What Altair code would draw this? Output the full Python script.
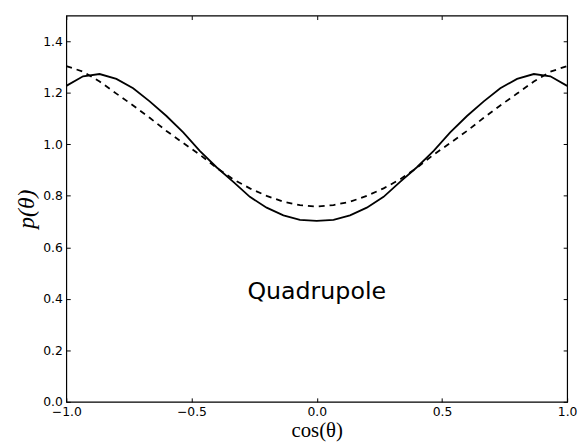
import altair as alt
import pandas as pd

# x grid (cos theta), left half incl. 0; right half mirrors it
x_half = [-1.0, -0.933, -0.867, -0.8, -0.733, -0.667, -0.6, -0.533, -0.467,
          -0.4, -0.333, -0.267, -0.2, -0.133, -0.067, 0.0]
solid_half = [1.227, 1.264, 1.273, 1.254, 1.218, 1.167, 1.110, 1.046, 0.975,
              0.911, 0.854, 0.796, 0.754, 0.724, 0.707, 0.703]
dashed_half = [1.304, 1.282, 1.244, 1.197, 1.151, 1.103, 1.052, 1.005, 0.960,
               0.909, 0.864, 0.829, 0.800, 0.777, 0.764, 0.758]

x_vals = x_half + [-v for v in reversed(x_half[:-1])]
solid_vals = solid_half + list(reversed(solid_half[:-1]))
dashed_vals = dashed_half + list(reversed(dashed_half[:-1]))

x_ticks = [-1.0, -0.5, 0.0, 0.5, 1.0]
y_ticks = [0.0, 0.2, 0.4, 0.6, 0.8, 1.0, 1.2, 1.4]

label_text = ["Quadrupole"]
label_x = [0.0]
label_y = [0.4]

df = pd.DataFrame({"x": x_vals, "solid": solid_vals, "dashed": dashed_vals})
df_lbl = pd.DataFrame({"x": label_x, "y": label_y, "t": label_text})

TS = 4
xs = alt.Scale(domain=[-1, 1], nice=False, zero=False)
ys = alt.Scale(domain=[0, 1.5], nice=False, zero=False)

x_axis = alt.Axis(values=x_ticks, format=".1f", title="cos(θ)", grid=False,
                  domain=False, tickSize=TS, offset=-TS, tickColor="black",
                  labelPadding=4, labelFont="DejaVu Sans", labelFontSize=12.5,
                  labelColor="black", labelFlush=False,
                  titleFont="Liberation Serif", titleFontSize=21,
                  titleFontWeight="normal", titleColor="black", titlePadding=2)
y_axis = alt.Axis(values=y_ticks, format=".1f", title="p(θ)", grid=False,
                  domain=False, tickSize=TS, offset=-TS, tickColor="black",
                  labelPadding=4, labelFont="DejaVu Sans", labelFontSize=12.5,
                  labelColor="black", labelFlush=False,
                  titleFont="Liberation Serif", titleFontSize=24,
                  titleFontStyle="italic", titleFontWeight="normal",
                  titleColor="black", titlePadding=4)

solid = alt.Chart(df).mark_line(color="black", strokeWidth=1.8).encode(
    x=alt.X("x:Q", scale=xs, axis=x_axis),
    y=alt.Y("solid:Q", scale=ys, axis=y_axis),
)

dashed = alt.Chart(df).mark_line(color="black", strokeWidth=1.8,
                                 strokeDash=[6, 5]).encode(
    x=alt.X("x:Q", scale=xs, axis=x_axis),
    y=alt.Y("dashed:Q", scale=ys, axis=y_axis),
)

text = alt.Chart(df_lbl).mark_text(font="DejaVu Sans", fontSize=24,
                                   color="black", align="center",
                                   baseline="alphabetic").encode(
    x=alt.X("x:Q", scale=xs, axis=x_axis),
    y=alt.Y("y:Q", scale=ys, axis=y_axis),
    text="t:N",
)

base = alt.layer(solid, dashed, text)

mirror = alt.Chart(df).mark_line(opacity=0).encode(
    x=alt.X("x:Q", scale=xs,
            axis=alt.Axis(orient="top", values=x_ticks, labels=False,
                          title=None, grid=False, domain=False, tickSize=TS,
                          offset=-TS, tickColor="black")),
    y=alt.Y("solid:Q", scale=ys,
            axis=alt.Axis(orient="right", values=y_ticks, labels=False,
                          title=None, grid=False, domain=False, tickSize=TS,
                          offset=-TS, tickColor="black")),
)

chart = alt.layer(base, mirror).resolve_scale(
    x="independent", y="independent"
).properties(
    width=507, height=391,
    padding={"left": 59, "top": 5, "right": 12, "bottom": 39},
    autosize=alt.AutoSizeParams(type="none"),
).configure_view(stroke="black", strokeWidth=1.2)

chart.save("out.html", embed_options={"renderer": "svg", "actions": False})
